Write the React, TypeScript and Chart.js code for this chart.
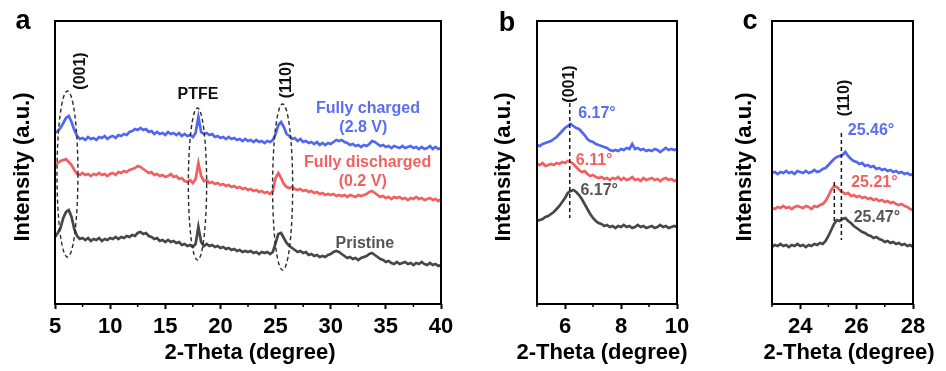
import React, { useEffect, useRef } from 'react';
import { Chart, registerables } from 'chart.js';

Chart.register(...registerables);

const FONT = '"Liberation Sans", Arial, Helvetica, sans-serif';
const BLUE = '#5267f0';
const RED = '#f25f61';
const GRAY = '#474747';
const BLUE_TXT = '#5a6ef2';
const RED_TXT = '#f06262';
const GRAY_TXT = '#555555';

// ---------- Panel a (wide scan) ----------
const A_THETA = [
  5, 5.25, 5.5, 5.75, 6, 6.25, 6.5, 6.75, 7, 7.25, 7.5, 7.75, 8, 8.25, 8.5, 8.75, 9, 9.25, 9.5, 9.75,
  10, 10.25, 10.5, 10.75, 11, 11.25, 11.5, 11.75, 12, 12.25, 12.5, 12.75, 13, 13.25, 13.5, 13.75, 14, 14.25, 14.5, 14.75,
  15, 15.25, 15.5, 15.75, 16, 16.25, 16.5, 16.75, 17, 17.25, 17.5, 17.75, 18, 18.25, 18.5, 18.75, 19, 19.25, 19.5, 19.75,
  20, 20.25, 20.5, 20.75, 21, 21.25, 21.5, 21.75, 22, 22.25, 22.5, 22.75, 23, 23.25, 23.5, 23.75, 24, 24.25, 24.5, 24.75,
  25, 25.25, 25.5, 25.75, 26, 26.25, 26.5, 26.75, 27, 27.25, 27.5, 27.75, 28, 28.25, 28.5, 28.75, 29, 29.25, 29.5, 29.75,
  30, 30.25, 30.5, 30.75, 31, 31.25, 31.5, 31.75, 32, 32.25, 32.5, 32.75, 33, 33.25, 33.5, 33.75, 34, 34.25, 34.5, 34.75,
  35, 35.25, 35.5, 35.75, 36, 36.25, 36.5, 36.75, 37, 37.25, 37.5, 37.75, 38, 38.25, 38.5, 38.75, 39, 39.25, 39.5, 39.75,
  40,
];
const A_CHARGED = [
  171, 173, 176, 181, 186, 188, 182, 174, 168, 165, 166, 164, 167, 165, 166, 164, 167, 166, 168, 165,
  167, 168, 166, 169, 168, 170, 169, 172, 173, 175, 174, 176, 174, 175, 172, 173, 170, 172, 170, 171,
  169, 172, 170, 171, 169, 171, 168, 170, 168, 169, 167, 171, 187, 172, 170, 171, 169, 170, 167, 168,
  166, 167, 165, 167, 165, 166, 164, 165, 163, 165, 163, 164, 162, 164, 162, 163, 161, 163, 162, 164,
  170, 179, 182, 177, 170, 168, 165, 166, 163, 165, 162, 163, 161, 162, 160, 162, 159, 161, 159, 161,
  160, 162, 164, 163, 164, 162, 161, 159, 160, 158, 159, 157, 159, 158, 160, 163, 162, 160, 158, 159,
  157, 158, 156, 158, 157, 156, 158, 156, 157, 158, 156, 157, 155, 157, 155, 156, 158, 155, 157, 155,
  156,
];
const A_DISCHARGED = [
  139, 141, 143, 144, 145, 142, 139, 134, 130, 129, 131, 129, 130, 128, 130, 129, 131, 129, 130, 128,
  130, 131, 129, 132, 131, 133, 132, 134, 135, 136, 138, 137, 135, 133, 131, 132, 129, 130, 128, 129,
  127, 128, 130, 127, 128, 125, 126, 123, 122, 124, 121, 125, 141, 128, 123, 124, 121, 122, 120, 121,
  119, 120, 118, 119, 117, 118, 116, 117, 115, 116, 114, 115, 113, 114, 112, 113, 111, 112, 110, 113,
  126, 131, 126, 120, 117, 116, 117, 115, 114, 115, 113, 114, 112, 113, 111, 112, 110, 111, 109, 110,
  109, 110, 108, 109, 108, 109, 107, 109, 108, 107, 109, 108, 109, 110, 112, 113, 111, 109, 107, 108,
  106, 107, 105, 107, 106, 107, 105, 106, 104, 106, 105, 107, 105, 106, 104, 105, 106, 104, 105, 103,
  105,
];
const A_PRISTINE = [
  67, 71, 76, 86, 92, 94, 87, 75, 68, 65, 66, 64, 66, 63, 65, 64, 66, 63, 65, 64,
  66, 65, 67, 65, 67, 66, 68, 67, 69, 68, 71, 72, 70, 71, 68, 67, 65, 66, 63, 64,
  62, 64, 62, 63, 61, 62, 59, 60, 58, 59, 57, 60, 77, 62, 58, 60, 58, 59, 57, 58,
  56, 57, 55, 56, 54, 55, 53, 54, 52, 53, 52, 53, 51, 52, 50, 52, 51, 52, 50, 52,
  61, 70, 71, 66, 61, 58, 56, 54, 52, 53, 51, 52, 49, 50, 48, 49, 47, 48, 47, 49,
  50, 52, 53, 52, 50, 48, 46, 47, 45, 46, 44, 46, 47, 48, 50, 51, 49, 47, 45, 44,
  42, 43, 41, 40, 42, 40, 41, 42, 40, 41, 39, 41, 40, 42, 40, 39, 41, 39, 40, 38,
  39,
];
const A_MAJOR = [5, 10, 15, 20, 25, 30, 35, 40];
const A_MINOR = [7.5, 12.5, 17.5, 22.5, 27.5, 32.5, 37.5];

// ---------- Panel b (001 region) ----------
const B_THETA = [
  5, 5.1, 5.2, 5.3, 5.4, 5.5, 5.6, 5.7, 5.8, 5.9,
  6, 6.1, 6.2, 6.3, 6.4, 6.5, 6.6, 6.7, 6.8, 6.9,
  7, 7.1, 7.2, 7.3, 7.4, 7.5, 7.6, 7.7, 7.8, 7.9,
  8, 8.1, 8.2, 8.3, 8.4, 8.5, 8.6, 8.7, 8.8, 8.9,
  9, 9.1, 9.2, 9.3, 9.4, 9.5, 9.6, 9.7, 9.8, 9.9,
  10,
];
const B_CHARGED = [
  159, 158, 160, 161, 162, 163, 165, 167, 170, 173,
  176, 178, 180, 178, 176, 175, 172, 169, 165, 163,
  162, 160, 159, 158, 157, 156, 154, 153, 154, 153,
  155, 154, 156, 155, 160, 155, 156, 154, 155, 153,
  154, 153, 155, 154, 152, 154, 156, 154, 155, 154,
  155,
];
const B_DISCHARGED = [
  140, 139, 141, 138, 139, 140, 139, 141, 140, 142,
  141, 143, 142, 140, 137, 134, 132, 133, 130, 128,
  129, 127, 126, 127, 125, 126, 124, 126, 125, 127,
  124, 126, 124, 125, 127, 124, 125, 123, 126, 124,
  125, 126, 124, 125, 123, 125, 126, 124, 125, 123,
  124,
];
const B_PRISTINE = [
  83, 84, 85, 87, 88, 90, 92, 95, 98, 102,
  106, 111, 113, 114, 112, 109, 105, 100, 95, 90,
  86, 83, 81, 80, 78, 79, 77, 78, 76, 78,
  77, 79, 77, 78, 76, 77, 79, 77, 78, 76,
  77, 78, 76, 77, 79, 77, 78, 76, 77, 78,
  77,
];
const B_MAJOR = [6, 8, 10];
const B_MINOR = [5, 7, 9];

// ---------- Panel c (110 region) ----------
const C_THETA = [
  23, 23.1, 23.2, 23.3, 23.4, 23.5, 23.6, 23.7, 23.8, 23.9,
  24, 24.1, 24.2, 24.3, 24.4, 24.5, 24.6, 24.7, 24.8, 24.9,
  25, 25.1, 25.2, 25.3, 25.4, 25.5, 25.6, 25.7, 25.8, 25.9,
  26, 26.1, 26.2, 26.3, 26.4, 26.5, 26.6, 26.7, 26.8, 26.9,
  27, 27.1, 27.2, 27.3, 27.4, 27.5, 27.6, 27.7, 27.8, 27.9,
  28,
];
const C_CHARGED = [
  131, 132, 130, 132, 131, 133, 131, 132, 130, 133,
  132, 131, 133, 131, 132, 134, 132, 133, 135, 136,
  139, 142, 145, 147, 148, 149, 152, 148, 145, 143,
  142, 140, 141, 138, 139, 137, 138, 135, 136, 134,
  135, 133, 134, 132, 133, 131, 132, 130, 131, 129,
  130,
];
const C_DISCHARGED = [
  96, 95, 97, 96, 98, 96, 97, 95, 97, 98,
  97, 96, 98, 97, 95, 98, 97, 99, 100, 103,
  108, 114, 118, 117, 114, 112, 110, 111, 108, 109,
  107, 108, 106, 107, 105, 106, 104, 105, 103, 104,
  102, 103, 101, 102, 100, 99, 100, 98, 97, 95,
  94,
];
const C_PRISTINE = [
  57, 59, 58, 60, 58, 59, 57, 59, 58, 60,
  58, 59, 57, 59, 58, 60, 59, 61, 60, 63,
  68, 74, 80, 84, 83, 85, 86, 83, 81, 78,
  76, 74, 72, 71, 69, 68, 66, 67, 65, 64,
  62, 63, 61, 62, 60, 61, 59, 60, 58, 59,
  57,
];
const C_MAJOR = [24, 26, 28];
const C_MINOR = [23, 25, 27];

// ---------- layout ----------
const H = 371;
const PLOT_TOP = 21;
const PLOT_BOTTOM = 304;
const Y_MAX = PLOT_BOTTOM - PLOT_TOP;

type Ann =
  | { kind: 'ellipse'; x: number; y: number; rx: number; ry: number }
  | { kind: 'vline'; x: number; y0: number; y1: number }
  | { kind: 'text'; x: number; y: number; text: string; color: string; rotate?: boolean };

interface Panel {
  letter: string;
  left: number;
  width: number;
  plotLeft: number;
  plotRight: number;
  xMin: number;
  xMax: number;
  major: number[];
  minor: number[];
  theta: number[];
  charged: number[];
  discharged: number[];
  pristine: number[];
  anns: Ann[];
  letterX: number;
  letterY: number;
  yTitleX: number;
  xTitleX: number;
}

const PANELS: Panel[] = [
  {
    letter: 'a', left: 0, width: 470, plotLeft: 55, plotRight: 441,
    xMin: 5, xMax: 40, major: A_MAJOR, minor: A_MINOR,
    theta: A_THETA, charged: A_CHARGED, discharged: A_DISCHARGED, pristine: A_PRISTINE,
    letterX: 23, letterY: 29, yTitleX: 23, xTitleX: 250,
    anns: [
      { kind: 'ellipse', x: 6.13, y: 130, rx: 0.95, ry: 83 },
      { kind: 'ellipse', x: 17.92, y: 120, rx: 0.83, ry: 76 },
      { kind: 'ellipse', x: 25.64, y: 117, rx: 0.91, ry: 83 },
      { kind: 'text', x: 7.36, y: 233, text: '(001)', color: '#111', rotate: true },
      { kind: 'text', x: 17.96, y: 209, text: 'PTFE', color: '#111' },
      { kind: 'text', x: 25.99, y: 224, text: '(110)', color: '#111', rotate: true },
      { kind: 'text', x: 33.38, y: 195, text: 'Fully charged', color: BLUE_TXT },
      { kind: 'text', x: 32.96, y: 176, text: '(2.8 V)', color: BLUE_TXT },
      { kind: 'text', x: 33.35, y: 141, text: 'Fully discharged', color: RED_TXT },
      { kind: 'text', x: 32.9, y: 122, text: '(0.2 V)', color: RED_TXT },
      { kind: 'text', x: 33.1, y: 60, text: 'Pristine', color: GRAY_TXT },
    ],
  },
  {
    letter: 'b', left: 470, width: 250, plotLeft: 67, plotRight: 207,
    xMin: 5, xMax: 10, major: B_MAJOR, minor: B_MINOR,
    theta: B_THETA, charged: B_CHARGED, discharged: B_DISCHARGED, pristine: B_PRISTINE,
    letterX: 37, letterY: 31, yTitleX: 34, xTitleX: 132,
    anns: [
      { kind: 'vline', x: 6.17, y0: 86, y1: 201 },
      { kind: 'text', x: 6.16, y: 220, text: '(001)', color: '#111', rotate: true },
      { kind: 'text', x: 7.14, y: 190, text: '6.17°', color: BLUE_TXT },
      { kind: 'text', x: 7.04, y: 143, text: '6.11°', color: RED_TXT },
      { kind: 'text', x: 7.22, y: 113, text: '6.17°', color: GRAY_TXT },
    ],
  },
  {
    letter: 'c', left: 720, width: 226, plotLeft: 52, plotRight: 193,
    xMin: 23, xMax: 28, major: C_MAJOR, minor: C_MINOR,
    theta: C_THETA, charged: C_CHARGED, discharged: C_DISCHARGED, pristine: C_PRISTINE,
    letterX: 30, letterY: 29, yTitleX: 25, xTitleX: 129,
    anns: [
      { kind: 'vline', x: 25.46, y0: 64, y1: 171 },
      { kind: 'vline', x: 25.21, y0: 80, y1: 122 },
      { kind: 'text', x: 25.59, y: 206, text: '(110)', color: '#111', rotate: true },
      { kind: 'text', x: 26.51, y: 173, text: '25.46°', color: BLUE_TXT },
      { kind: 'text', x: 26.63, y: 121.5, text: '25.21°', color: RED_TXT },
      { kind: 'text', x: 26.72, y: 86.5, text: '25.47°', color: GRAY_TXT },
    ],
  },
];

function decorPlugin(p: Panel) {
  return {
    id: 'decor_' + p.letter,
    afterDraw(chart: any) {
      const { ctx, chartArea: ca, scales } = chart;
      const xs = scales.x;
      const ys = scales.y;
      ctx.save();
      // frame
      ctx.setLineDash([]);
      ctx.strokeStyle = '#000';
      ctx.lineWidth = 2;
      ctx.strokeRect(ca.left, ca.top, ca.right - ca.left, ca.bottom - ca.top);
      // minor ticks
      ctx.lineWidth = 1.5;
      for (const v of p.minor) {
        const px = xs.getPixelForValue(v);
        ctx.beginPath();
        ctx.moveTo(px, ca.bottom);
        ctx.lineTo(px, ca.bottom + 3);
        ctx.stroke();
      }
      // annotations
      for (const a of p.anns) {
        if (a.kind === 'ellipse') {
          const cx = xs.getPixelForValue(a.x);
          const cy = ys.getPixelForValue(a.y);
          const rx = Math.abs(xs.getPixelForValue(a.x + a.rx) - cx);
          const ry = Math.abs(ys.getPixelForValue(a.y + a.ry) - cy);
          ctx.setLineDash([4, 3]);
          ctx.strokeStyle = '#2a2a2a';
          ctx.lineWidth = 1.4;
          ctx.beginPath();
          ctx.ellipse(cx, cy, rx, ry, 0, 0, Math.PI * 2);
          ctx.stroke();
        } else if (a.kind === 'vline') {
          const px = xs.getPixelForValue(a.x);
          ctx.setLineDash([4, 3]);
          ctx.strokeStyle = '#1a1a1a';
          ctx.lineWidth = 1.5;
          ctx.beginPath();
          ctx.moveTo(px, ys.getPixelForValue(a.y1));
          ctx.lineTo(px, ys.getPixelForValue(a.y0));
          ctx.stroke();
        } else {
          const px = xs.getPixelForValue(a.x);
          const py = ys.getPixelForValue(a.y);
          ctx.setLineDash([]);
          ctx.fillStyle = a.color;
          ctx.font = `bold 16px ${FONT}`;
          ctx.textAlign = 'center';
          ctx.textBaseline = 'middle';
          if (a.rotate) {
            ctx.save();
            ctx.translate(px, py);
            ctx.rotate(-Math.PI / 2);
            ctx.fillText(a.text, 0, 0);
            ctx.restore();
          } else {
            ctx.fillText(a.text, px, py);
          }
        }
      }
      // axis titles
      ctx.setLineDash([]);
      ctx.fillStyle = '#000';
      ctx.font = `bold 22px ${FONT}`;
      ctx.textAlign = 'center';
      ctx.textBaseline = 'alphabetic';
      ctx.fillText('2-Theta (degree)', p.xTitleX, 359);
      ctx.save();
      ctx.translate(p.yTitleX, 167);
      ctx.rotate(-Math.PI / 2);
      ctx.textBaseline = 'middle';
      ctx.fillText('Intensity (a.u.)', 0, 0);
      ctx.restore();
      // panel letter
      ctx.font = `bold 27px ${FONT}`;
      ctx.textAlign = 'center';
      ctx.textBaseline = 'alphabetic';
      ctx.fillText(p.letter, p.letterX, p.letterY);
      ctx.restore();
    },
  };
}

function PanelChart({ p }: { p: Panel }) {
  const ref = useRef<HTMLCanvasElement | null>(null);
  useEffect(() => {
    if (!ref.current) return;
    const series = [
      { label: 'Fully charged (2.8 V)', vals: p.charged, color: BLUE },
      { label: 'Fully discharged (0.2 V)', vals: p.discharged, color: RED },
      { label: 'Pristine', vals: p.pristine, color: GRAY },
    ];
    const chart = new Chart(ref.current, {
      type: 'line',
      data: {
        datasets: series.map((s) => ({
          label: s.label,
          data: p.theta.map((t, i) => ({ x: t, y: s.vals[i] })),
          borderColor: s.color,
          backgroundColor: s.color,
          borderWidth: 2.7,
          pointRadius: 0,
          tension: 0,
          fill: false,
        })),
      },
      options: {
        responsive: false,
        animation: false,
        layout: { padding: { top: PLOT_TOP, right: p.width - p.plotRight, left: 0, bottom: 0 } },
        plugins: { legend: { display: false }, tooltip: { enabled: false } },
        scales: {
          x: {
            type: 'linear',
            min: p.xMin,
            max: p.xMax,
            afterBuildTicks: (s: any) => {
              s.ticks = p.major.map((v) => ({ value: v }));
            },
            afterFit: (s: any) => {
              s.height = H - PLOT_BOTTOM;
            },
            ticks: {
              font: { size: 22, weight: 'bold', family: FONT },
              color: '#000',
              padding: 5,
              maxRotation: 0,
              autoSkip: false,
              callback: (v: any) => String(v),
            },
            grid: {
              display: true,
              drawOnChartArea: false,
              drawTicks: true,
              tickLength: 5,
              tickWidth: 2,
              tickColor: '#000',
            },
            border: { display: false },
          },
          y: {
            type: 'linear',
            min: 0,
            max: Y_MAX,
            afterFit: (s: any) => {
              s.width = p.plotLeft;
            },
            ticks: { display: false },
            grid: { display: false },
            border: { display: false },
          },
        },
      } as any,
      plugins: [decorPlugin(p)],
    });
    return () => chart.destroy();
  }, [p]);
  return (
    <canvas
      ref={ref}
      width={p.width}
      height={H}
      style={{ position: 'absolute', left: p.left, top: 0, width: p.width, height: H }}
    />
  );
}

export default function App() {
  return (
    <div style={{ position: 'absolute', left: 0, top: 0, width: 946, height: H, background: '#fff' }}>
      {PANELS.map((p) => (
        <PanelChart key={p.letter} p={p} />
      ))}
    </div>
  );
}
